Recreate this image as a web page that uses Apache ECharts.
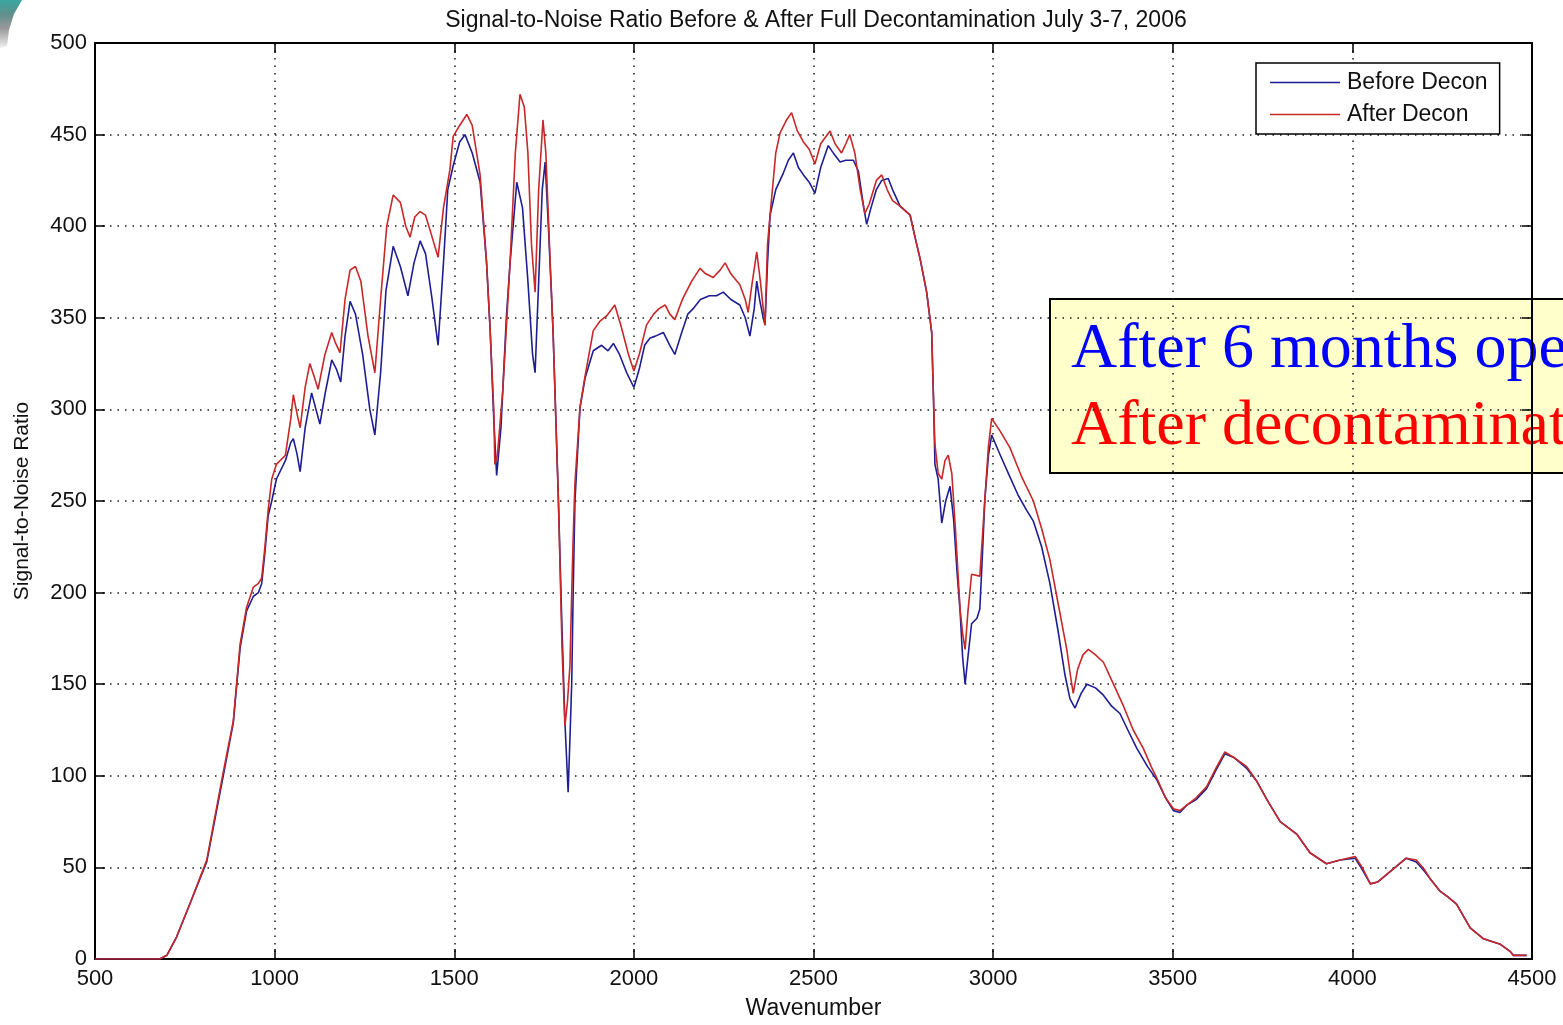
<!DOCTYPE html>
<html>
<head>
<meta charset="utf-8">
<script src="https://cdn.jsdelivr.net/npm/echarts@6/dist/echarts.min.js"></script>
<style>
  html, body { margin: 0; padding: 0; background: #ffffff; }
  #chart { width: 1563px; height: 1025px; }
</style>
</head>
<body>
<div id="chart"></div>
<script>
// Signal-to-noise ratio spectra, before and after decontamination
const beforeWn = [500,680,700,727,764,811,857,885,904,922,941,955,964,973,982,992,1005,1030,1045,1052,1062,1071,1085,1103,1115,1126,1140,1159,1172,1184,1196,1210,1225,1245,1265,1279,1295,1310,1330,1350,1371,1388,1405,1420,1437,1455,1470,1482,1497,1515,1530,1550,1572,1590,1600,1610,1618,1630,1645,1655,1674,1690,1705,1718,1725,1735,1745,1753,1762,1775,1790,1800,1808,1817,1822,1827,1831,1836,1850,1864,1887,1910,1928,1943,1960,1980,2000,2015,2030,2045,2060,2082,2100,2114,2130,2150,2165,2185,2210,2230,2249,2270,2295,2310,2323,2335,2342,2350,2360,2365,2372,2379,2395,2416,2430,2444,2458,2472,2488,2504,2520,2541,2555,2574,2590,2611,2625,2640,2648,2660,2675,2690,2708,2720,2741,2769,2785,2797,2815,2829,2834,2838,2847,2857,2868,2880,2890,2900,2908,2915,2922,2930,2940,2955,2963,2970,2977,2987,2996,3020,3047,3070,3093,3112,3135,3158,3180,3200,3214,3228,3245,3261,3285,3307,3330,3353,3375,3400,3430,3455,3480,3502,3520,3539,3565,3594,3620,3645,3670,3706,3734,3765,3799,3846,3882,3928,3966,4008,4030,4050,4070,4095,4125,4150,4178,4200,4216,4244,4265,4290,4328,4365,4412,4440,4448,4485];
const beforeSnr = [0,0,2,12,30,53,100,129,170,190,198,200,205,222,242,250,262,272,282,284,276,266,290,309,300,292,308,327,322,315,340,359,352,330,300,286,320,365,389,378,362,380,392,385,362,335,380,420,433,446,450,440,424,380,343,295,264,290,350,379,424,410,370,330,320,370,420,435,400,343,250,180,130,91,120,151,200,250,301,317,332,335,332,336,330,320,312,322,335,339,340,342,335,330,340,352,355,360,362,362,364,360,357,350,340,355,370,360,350,346,380,406,420,429,436,440,432,428,424,418,432,444,440,435,436,436,430,410,401,410,420,425,426,420,411,406,392,382,364,342,306,270,262,238,250,258,240,210,190,165,150,165,183,186,191,220,251,275,286,275,263,253,245,239,225,205,180,155,142,137,145,150,148,144,138,134,125,115,105,98,88,81,80,84,87,93,103,112,110,104,97,86,75,68,58,52,54,55,48,41,42,46,51,55,53,48,44,37,34,30,17,11,8,4,2,2];

const afterWn = [500,680,700,727,764,811,857,885,904,922,941,955,964,973,982,992,1005,1030,1045,1052,1062,1071,1085,1098,1110,1121,1140,1159,1170,1182,1196,1210,1225,1240,1260,1279,1295,1312,1330,1350,1365,1377,1390,1405,1420,1437,1455,1470,1488,1497,1515,1535,1550,1572,1590,1600,1610,1613,1620,1635,1655,1670,1683,1695,1705,1715,1725,1735,1747,1755,1765,1775,1790,1800,1808,1815,1822,1827,1831,1836,1850,1864,1887,1905,1924,1947,1965,1985,2000,2015,2035,2055,2070,2087,2100,2114,2135,2161,2184,2200,2221,2240,2254,2270,2295,2310,2318,2330,2342,2352,2365,2372,2379,2395,2407,2425,2439,2455,2472,2488,2504,2520,2546,2560,2578,2590,2601,2615,2630,2643,2655,2675,2690,2705,2720,2741,2769,2785,2797,2815,2829,2834,2838,2847,2857,2866,2875,2885,2895,2908,2915,2922,2930,2940,2963,2970,2977,2987,2996,3020,3047,3080,3112,3135,3158,3180,3205,3215,3223,3235,3250,3265,3285,3307,3335,3363,3390,3418,3440,3455,3480,3502,3520,3539,3565,3594,3620,3645,3670,3706,3734,3765,3799,3846,3882,3928,3966,4008,4030,4050,4070,4095,4125,4150,4178,4200,4216,4244,4265,4290,4328,4365,4412,4440,4448,4485];
const afterSnr = [0,0,2,12,30,54,102,130,172,192,203,205,208,225,245,262,270,275,295,308,298,290,312,325,318,311,330,342,336,331,360,376,378,370,340,320,360,400,417,413,400,394,405,408,406,395,383,410,431,449,455,461,455,428,380,343,300,270,275,310,379,440,472,465,440,390,364,420,458,440,390,343,250,170,127,140,160,200,230,260,301,318,343,348,351,357,345,330,321,330,346,352,355,357,352,349,360,370,377,374,372,376,380,374,368,360,353,370,386,370,346,390,406,440,451,458,462,452,446,442,434,445,452,445,440,445,450,440,420,407,412,425,428,420,414,411,406,392,382,364,342,306,281,265,262,272,275,265,235,191,178,169,190,210,209,230,251,280,295,288,279,263,250,235,218,195,169,155,145,158,166,169,166,162,150,138,125,115,105,99,88,82,81,84,88,94,104,113,110,105,97,86,75,68,58,52,54,56,49,41,42,46,51,55,54,49,44,37,34,30,17,11,8,4,2,2];

const xTicks = { min: 500, max: 4500, step: 500 };
const yTicks = { min: 0, max: 500, step: 50 };

const seriesNames = ['Before Decon', 'After Decon'];
const titleText = 'Signal-to-Noise Ratio Before & After Full Decontamination July 3-7, 2006';
const noteLines = ['After 6 months operation', 'After decontamination'];

const pairs = (xs, ys) => xs.map((x, i) => [x, ys[i]]);

const FONT = 'Liberation Sans, Arial, sans-serif';
const gridBox = { left: 95, right: 31, top: 43, bottom: 60 };

const dotted = { color: '#1a1a1a', width: 1.5, type: [1.5, 6] };

const chart = echarts.init(document.getElementById('chart'), null, { renderer: 'canvas' });

const baseX = {
  type: 'value', min: xTicks.min, max: xTicks.max, interval: xTicks.step,
  axisLine: { show: true, onZero: false, lineStyle: { color: '#000', width: 2 } },
  axisTick: { show: true, inside: true, length: 10, lineStyle: { color: '#000', width: 1.5 } }
};
const baseY = {
  type: 'value', min: yTicks.min, max: yTicks.max, interval: yTicks.step,
  axisLine: { show: true, onZero: false, lineStyle: { color: '#000', width: 2 } },
  axisTick: { show: true, inside: true, length: 10, lineStyle: { color: '#000', width: 1.5 } }
};

chart.setOption({
  backgroundColor: '#ffffff',
  animation: false,
  title: {
    text: titleText,
    left: 811, top: 4, textAlign: 'center',
    textStyle: { fontFamily: FONT, fontSize: 23, fontWeight: 'normal', color: '#111' }
  },
  grid: gridBox,
  legend: {
    orient: 'vertical',
    left: 1256, top: 63,
    width: 247,
    data: seriesNames,
    icon: 'rect',
    itemWidth: 70, itemHeight: 1.5,
    itemGap: 9,
    padding: [8, 12, 8, 14],
    backgroundColor: '#ffffff',
    borderColor: '#000', borderWidth: 1.5,
    textStyle: { fontFamily: FONT, fontSize: 23, color: '#111', padding: [0, 0, 0, 2] }
  },
  xAxis: [
    Object.assign({}, baseX, {
      position: 'bottom',
      name: 'Wavenumber', nameLocation: 'middle', nameGap: 38,
      nameTextStyle: { fontFamily: FONT, fontSize: 23, color: '#111' },
      axisLabel: { fontFamily: FONT, fontSize: 22, color: '#111', margin: 9, formatter: v => String(v) },
      splitLine: { show: true, lineStyle: dotted }
    }),
    Object.assign({}, baseX, {
      position: 'top',
      axisLabel: { show: false },
      splitLine: { show: false }
    })
  ],
  yAxis: [
    Object.assign({}, baseY, {
      position: 'left',
      name: 'Signal-to-Noise Ratio', nameLocation: 'middle', nameGap: 62,
      nameTextStyle: { fontFamily: FONT, fontSize: 21, color: '#111' },
      axisLabel: { fontFamily: FONT, fontSize: 22, color: '#111', margin: 8, formatter: v => String(v) },
      splitLine: { show: true, lineStyle: dotted }
    }),
    Object.assign({}, baseY, {
      position: 'right',
      axisLabel: { show: false },
      splitLine: { show: false }
    })
  ],
  series: [
    {
      name: seriesNames[0], type: 'line', xAxisIndex: 0, yAxisIndex: 0,
      data: pairs(beforeWn, beforeSnr),
      showSymbol: false, symbol: 'none',
      lineStyle: { color: '#1e1e94', width: 1.6 },
      itemStyle: { color: '#1e1e94' },
      z: 3
    },
    {
      name: seriesNames[1], type: 'line', xAxisIndex: 0, yAxisIndex: 0,
      data: pairs(afterWn, afterSnr),
      showSymbol: false, symbol: 'none',
      lineStyle: { color: '#c82828', width: 1.6 },
      itemStyle: { color: '#c82828' },
      z: 4
    }
  ],
  graphic: [
    // slide corner ornament
    {
      type: 'polygon', left: 0, top: 0, silent: true,
      shape: { points: [[0, 0], [22, 0], [14, 14], [9, 30], [7, 46], [0, 48]] },
      style: {
        fill: new echarts.graphic.LinearGradient(0, 0, 0, 1, [
          { offset: 0, color: '#3aa6a0' },
          { offset: 0.3, color: '#5f8f8c' },
          { offset: 0.6, color: '#9a9a9a' },
          { offset: 1, color: '#f0f0f0' }
        ])
      }
    },
    // annotation box
    {
      type: 'group', left: 1049, top: 298, silent: true, z: 100,
      children: [
        {
          type: 'rect', shape: { x: 0, y: 0, width: 620, height: 174 },
          style: { fill: '#ffffcc', stroke: '#000', lineWidth: 2 }
        },
        {
          type: 'text', x: 21, y: 19,
          style: {
            text: noteLines[0], fill: '#0000ff',
            font: '64px "Liberation Serif", "Times New Roman", serif',
            verticalAlign: 'top'
          }
        },
        {
          type: 'text', x: 21, y: 96,
          style: {
            text: noteLines[1], fill: '#ff0000',
            font: '64px "Liberation Serif", "Times New Roman", serif',
            verticalAlign: 'top'
          }
        }
      ]
    }
  ]
});
</script>
</body>
</html>
